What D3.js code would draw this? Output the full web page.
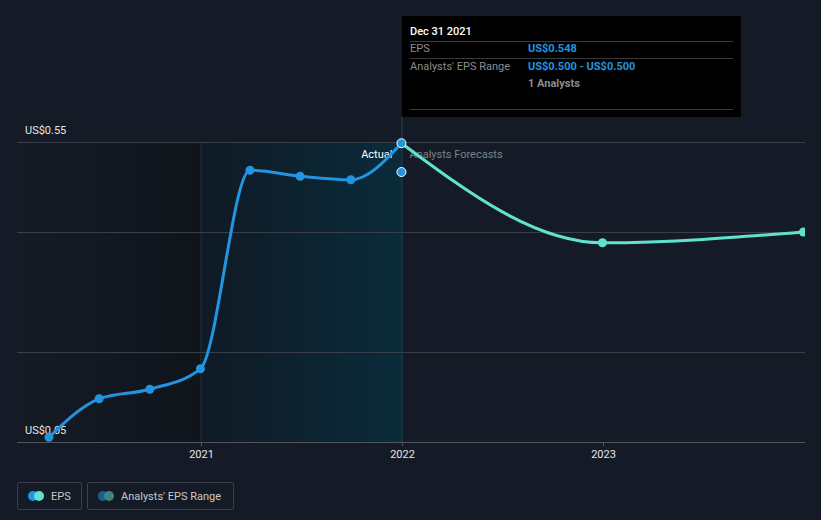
<!DOCTYPE html>
<html>
<head>
<meta charset="utf-8">
<script src="https://cdn.jsdelivr.net/npm/d3@7"></script>
<style>
  body { margin: 0; background: #151b26; }
  svg { display: block; font-family: Roboto, "Open Sans", sans-serif; }
</style>
</head>
<body>
<div id="chart"></div>
<script>
let width = 821;
let height = 520;

// actual EPS (quarter end, trailing)
let actualDates = ["2020-03-31", "2020-06-30", "2020-09-30", "2020-12-31", "2021-03-31", "2021-06-30", "2021-09-30", "2021-12-31"];
let actualValues = [0.058, 0.122, 0.138, 0.172, 0.503, 0.493, 0.487, 0.548];

// analysts forecast
let forecastDates = ["2021-12-31", "2022-12-31", "2023-12-31"];
let forecastValues = [0.548, 0.382, 0.40];

// analysts estimate for the last reported period
let estimateDates = ["2021-12-31"];
let estimateValues = [0.500];

let yTicks = [0.05, 0.2, 0.4, 0.55];
let yLabels = ["US$0.05", "", "", "US$0.55"];
let xTicks = ["2021-01-01", "2022-01-01", "2023-01-01"];

const parse = d3.timeParse("%Y-%m-%d");
const actual = actualDates.map((d, i) => ({ date: parse(d), value: actualValues[i] }));
const forecast = forecastDates.map((d, i) => ({ date: parse(d), value: forecastValues[i] }));
const estimate = estimateDates.map((d, i) => ({ date: parse(d), value: estimateValues[i] }));

let plotLeft = 17, plotRight = 805, plotTop = 142, plotBottom = 442;

// 2021 at 201, 2022 at 402, 2023 at 603
const x = d3.scaleTime()
    .domain([parse("2021-01-01"), parse("2023-01-01")])
    .range([201, 603]);

const y = d3.scaleLinear()
    .domain([0.05, 0.55])
    .range([plotBottom, plotTop]);

const svg = d3.select("#chart")
    .append("svg")
    .attr("width", width)
    .attr("height", height);

const defs = svg.append("defs");
const pastGrad = defs.append("linearGradient").attr("id", "past");
pastGrad.append("stop").attr("offset", "0%").attr("stop-color", "#151b26");
pastGrad.append("stop").attr("offset", "100%").attr("stop-color", "#10141b");
const rangeGrad = defs.append("linearGradient").attr("id", "range");
rangeGrad.append("stop").attr("offset", "0%").attr("stop-color", "#0f1a25");
rangeGrad.append("stop").attr("offset", "100%").attr("stop-color", "#0a2b3a");

defs.append("clipPath").attr("id", "plot")
    .append("rect")
    .attr("x", plotLeft).attr("y", 0)
    .attr("width", plotRight - plotLeft).attr("height", plotBottom + 10);

const now = parse("2021-12-31");
const yearAgo = parse("2021-01-01");

// past background
svg.append("rect")
    .attr("x", plotLeft).attr("y", plotTop)
    .attr("width", x(yearAgo) - plotLeft).attr("height", plotBottom - plotTop)
    .attr("fill", "url(#past)");

svg.append("rect")
    .attr("x", x(yearAgo)).attr("y", plotTop)
    .attr("width", x(now) - x(yearAgo)).attr("height", plotBottom - plotTop)
    .attr("fill", "url(#range)");

svg.append("line")
    .attr("x1", x(yearAgo)).attr("x2", x(yearAgo))
    .attr("y1", plotTop).attr("y2", plotBottom)
    .attr("stroke", "#1a3340").attr("stroke-width", 1);

// grid
svg.append("g")
    .selectAll("line")
    .data(yTicks)
    .join("line")
    .attr("x1", plotLeft).attr("x2", plotRight)
    .attr("y1", d => Math.round(y(d)) + 0.5).attr("y2", d => Math.round(y(d)) + 0.5)
    .attr("stroke", (d, i) => i === 0 ? "#50555e" : "#393e48")
    .attr("stroke-width", 1);

// y labels
svg.append("g")
    .selectAll("text")
    .data(yTicks)
    .join("text")
    .attr("x", 25)
    .attr("y", d => y(d) - 8)
    .attr("fill", "#e6e6e6")
    .style("font-size", "11px")
    .text((d, i) => yLabels[i]);

// x axis
const xAxis = svg.append("g")
    .attr("transform", `translate(0,${plotBottom})`)
    .call(d3.axisBottom(x)
        .tickValues(xTicks.map(parse))
        .tickFormat(d3.timeFormat("%Y"))
        .tickSize(4)
        .tickPadding(4));
xAxis.select(".domain").remove();
xAxis.selectAll(".tick line").attr("stroke", "#50555e");
xAxis.selectAll(".tick text")
    .attr("fill", "#e6e6e6")
    .style("font-size", "11px")
    .style("font-family", "Roboto, sans-serif");

// now line
svg.append("line")
    .attr("x1", x(now) + 0.5).attr("x2", x(now) + 0.5)
    .attr("y1", 117).attr("y2", plotBottom)
    .attr("stroke", "#1e4656").attr("stroke-width", 1);

svg.append("text")
    .attr("x", x(now) - 9).attr("y", 158)
    .attr("text-anchor", "end")
    .attr("fill", "#ffffff")
    .style("font-size", "11px")
    .text("Actual");
svg.append("text")
    .attr("x", x(now) + 8).attr("y", 158)
    .attr("fill", "#7d828a")
    .style("font-size", "11px")
    .text("Analysts Forecasts");

const line = d3.line()
    .x(d => x(d.date))
    .y(d => y(d.value))
    .curve(d3.curveMonotoneX);

const plot = svg.append("g").attr("clip-path", "url(#plot)");

plot.append("path")
    .datum(forecast)
    .attr("fill", "none")
    .attr("stroke", "#5fe3cf")
    .attr("stroke-width", 3)
    .attr("d", line);

plot.append("path")
    .datum(actual)
    .attr("fill", "none")
    .attr("stroke", "#2394df")
    .attr("stroke-width", 3)
    .attr("d", line);

plot.selectAll(".fdot")
    .data(forecast.slice(1))
    .join("circle")
    .attr("cx", d => x(d.date))
    .attr("cy", d => y(d.value))
    .attr("r", 4.5)
    .attr("fill", "#5fe3cf");

plot.selectAll(".adot")
    .data(actual.slice(0, -1))
    .join("circle")
    .attr("cx", d => x(d.date))
    .attr("cy", d => y(d.value))
    .attr("r", 4.5)
    .attr("fill", "#2394df");

plot.selectAll(".edot")
    .data(estimate.concat([actual[actual.length - 1]]))
    .join("circle")
    .attr("cx", d => x(d.date))
    .attr("cy", d => y(d.value))
    .attr("r", 4.5)
    .attr("fill", "#2394df")
    .attr("stroke", "#ffffff")
    .attr("stroke-width", 1);

// tooltip
const tip = svg.append("g").attr("transform", "translate(402,16)");
tip.append("rect")
    .attr("width", 339).attr("height", 101)
    .attr("fill", "#000000");
tip.append("text")
    .attr("x", 8).attr("y", 19)
    .attr("fill", "#ffffff")
    .style("font-size", "11px")
    .style("font-weight", 500)
    .text("Dec 31 2021");
[25, 42, 93].forEach(yy => {
    tip.append("line")
        .attr("x1", 8).attr("x2", 331)
        .attr("y1", yy + 0.5).attr("y2", yy + 0.5)
        .attr("stroke", "#3a3a3a");
});
tip.append("text").attr("x", 8).attr("y", 36).attr("fill", "#8c8c8c")
    .style("font-size", "11px").text("EPS");
tip.append("text").attr("x", 126).attr("y", 36).attr("fill", "#2394df")
    .style("font-size", "11px").style("font-weight", "bold").text("US$" + actualValues[actualValues.length - 1].toFixed(3));
tip.append("text").attr("x", 8).attr("y", 54).attr("fill", "#8c8c8c")
    .style("font-size", "11px").text("Analysts' EPS Range");
tip.append("text").attr("x", 126).attr("y", 54).attr("fill", "#2394df")
    .style("font-size", "11px").style("font-weight", "bold")
    .text("US$" + estimateValues[0].toFixed(3) + " - US$" + estimateValues[0].toFixed(3));
tip.append("text").attr("x", 126).attr("y", 71).attr("fill", "#8c8c8c")
    .style("font-size", "11px").style("font-weight", "bold").text("1 Analysts");

// legend
const legendItems = [
    { label: "EPS", x: 17, w: 64, c1: "#2394df", c2: "#5fe3cf" },
    { label: "Analysts' EPS Range", x: 87, w: 146, c1: "#1f5f8e", c2: "#3e8580" }
];
const lg = svg.append("g").selectAll("g")
    .data(legendItems)
    .join("g")
    .attr("transform", d => `translate(${d.x},482)`);
lg.append("rect")
    .attr("x", 0.5).attr("y", 0.5)
    .attr("width", d => d.w).attr("height", 27)
    .attr("rx", 2)
    .attr("fill", "none")
    .attr("stroke", "#3b404a");
lg.append("circle").attr("cx", 16).attr("cy", 14).attr("r", 5).attr("fill", d => d.c1);
lg.append("circle").attr("cx", 22).attr("cy", 14).attr("r", 5).attr("fill", d => d.c2);
lg.append("text")
    .attr("x", 34).attr("y", 18)
    .attr("fill", "#c8c8c8")
    .style("font-size", "11px")
    .text(d => d.label);
</script>
</body>
</html>
